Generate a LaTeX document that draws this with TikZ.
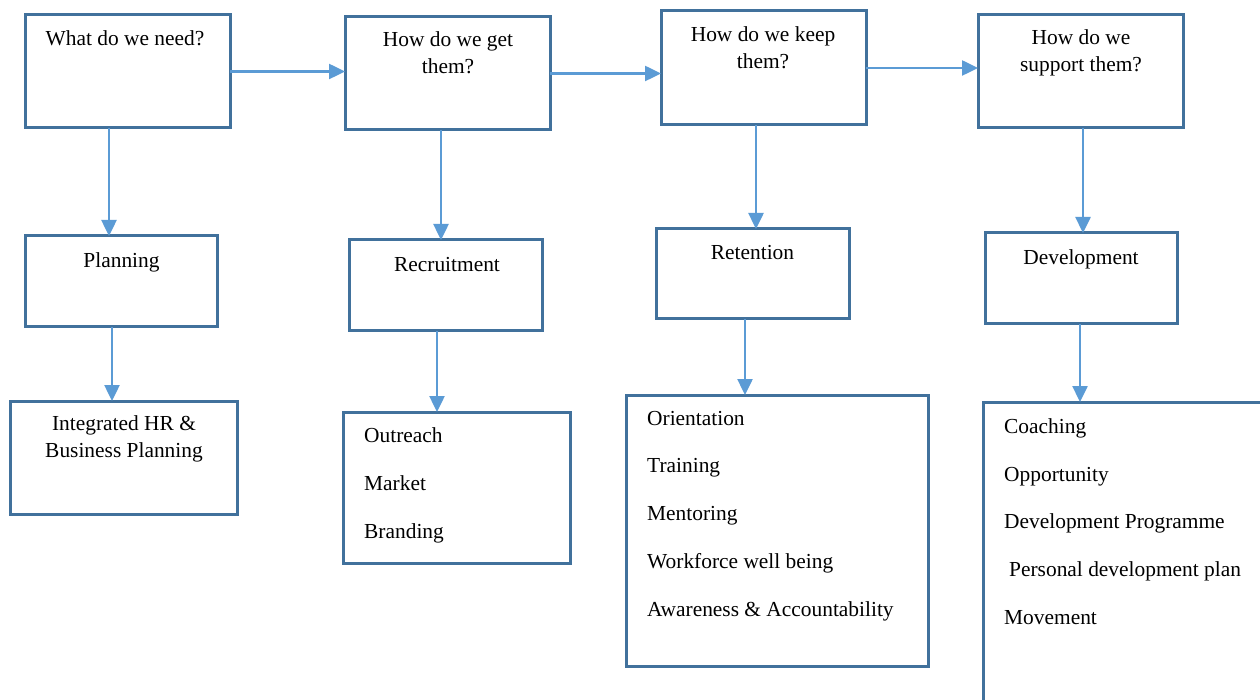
\documentclass[tikz,border=0pt]{standalone}
\usepackage{fontspec}
\setmainfont{Liberation Serif}
\usetikzlibrary{arrows.meta}
\definecolor{boxc}{HTML}{41719C}
\definecolor{arrc}{HTML}{5B9BD5}
\tikzset{
  box/.style={draw=boxc, line width=3pt, inner sep=0pt, outer sep=0pt, anchor=north west, fill=white},
  arr/.style={draw=arrc, line width=2.5pt, -{Triangle[length=16pt,width=15pt]}},
  txt/.style={font=\fontsize{21.4}{26}\selectfont, inner sep=0pt, anchor=base},
  ltxt/.style={txt, anchor=base west},
}
\begin{document}
\begin{tikzpicture}[x=1pt,y=-1pt]
\useasboundingbox (0,0) rectangle (1260,700);
\clip (0,0) rectangle (1260,700);
\fill[white] (0,0) rectangle (1260,700);
% top row
\node[box, minimum width=205pt, minimum height=113pt] (q1) at (25,15) {};
\node[box, minimum width=205pt, minimum height=113pt] (q2) at (345,17) {};
\node[box, minimum width=205pt, minimum height=114pt] (q3) at (661,11) {};
\node[box, minimum width=205pt, minimum height=113pt] (q4) at (978,15) {};
% middle row
\node[box, minimum width=192pt, minimum height=91pt] (p1) at (25,236) {};
\node[box, minimum width=193pt, minimum height=91pt] (p2) at (349,240) {};
\node[box, minimum width=193pt, minimum height=90pt] (p3) at (656,229) {};
\node[box, minimum width=192pt, minimum height=91pt] (p4) at (985,233) {};
% bottom row
\node[box, minimum width=227pt, minimum height=113pt] (d1) at (10,401) {};
\node[box, minimum width=227pt, minimum height=151pt] (d2) at (343,412) {};
\node[box, minimum width=302pt, minimum height=271pt] (d3) at (626,395) {};
\node[box, minimum width=290pt, minimum height=310pt] (d4) at (983,402) {};

% arrow columns
\coordinate (c1) at (109,0);
\coordinate (c2) at (441,0);
\coordinate (c3) at (756,0);
\coordinate (c4) at (1083,0);
\coordinate (e1) at (112,0);
\coordinate (e2) at (437,0);
\coordinate (e3) at (745,0);
\coordinate (e4) at (1080,0);

% horizontal arrows
\draw[arr] (q1.east) -- (q1.east -| q2.west);
\draw[arr] (q2.east) -- (q2.east -| q3.west);
\draw[arr] (q3.east) -- (q3.east -| q4.west);
% vertical arrows
\draw[arr] (q1.south -| c1) -- (p1.north -| c1);
\draw[arr] (q2.south -| c2) -- (p2.north -| c2);
\draw[arr] (q3.south -| c3) -- (p3.north -| c3);
\draw[arr] (q4.south -| c4) -- (p4.north -| c4);
\draw[arr] (p1.south -| e1) -- (d1.north -| e1);
\draw[arr] (p2.south -| e2) -- (d2.north -| e2);
\draw[arr] (p3.south -| e3) -- (d3.north -| e3);
\draw[arr] (p4.south -| e4) -- (d4.north -| e4);

% texts top row
\node[txt] (t1) at (125,46) {What do we need?};
\node[txt] (t2a) at (448,46.7) {How do we get};
\node[txt] (t2b) at (448,73.3) {them?};
\node[txt] (t3a) at (763,41.7) {How do we keep};
\node[txt] (t3b) at (763,68.3) {them?};
\node[txt] (t4a) at (1081,44.3) {How do we};
\node[txt] (t4b) at (1081,71.7) {support them?};
% middle row
\node[txt] (m1) at (121.5,268) {Planning};
\node[txt] (m2) at (447,271.7) {Recruitment};
\node[txt] (m3) at (752.5,260) {Retention};
\node[txt] (m4) at (1081,265) {Development};
% bottom row
\node[txt] (b1a) at (124,430.7) {Integrated HR \&};
\node[txt] (b1b) at (124,457) {Business Planning};
\node[ltxt] (b2a) at (364,442.7) {Outreach};
\node[ltxt] (b2b) at (364,490.7) {Market};
\node[ltxt] (b2c) at (364,538.3) {Branding};
\node[ltxt] (b3a) at (647,425) {Orientation};
\node[ltxt] (b3b) at (647,472.3) {Training};
\node[ltxt] (b3c) at (647,520) {Mentoring};
\node[ltxt] (b3d) at (647,568.3) {Workforce well being};
\node[ltxt] (b3e) at (647,616) {Awareness \& Accountability};
\node[ltxt] (b4a) at (1004,433.3) {Coaching};
\node[ltxt] (b4b) at (1004,481.7) {Opportunity};
\node[ltxt] (b4c) at (1004,528.3) {Development Programme};
\node[ltxt] (b4d) at (1009,576.7) {Personal development plan};
\node[ltxt] (b4e) at (1004,624.3) {Movement};
\end{tikzpicture}
\end{document}
